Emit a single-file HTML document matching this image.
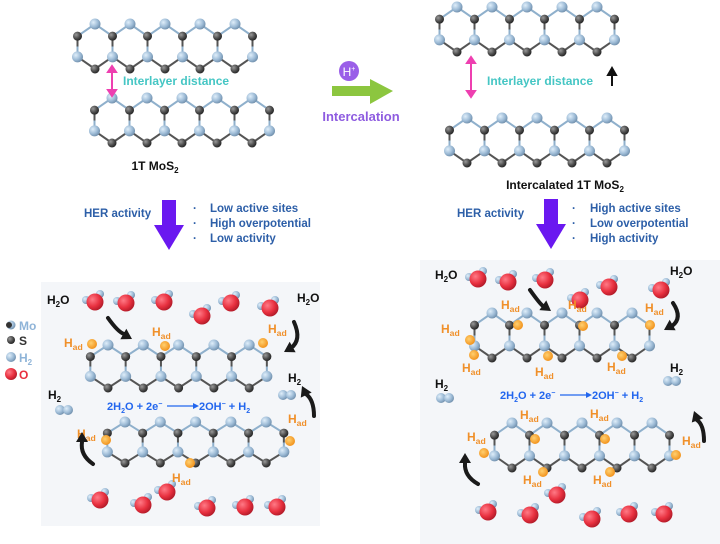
<!DOCTYPE html>
<html><head><meta charset="utf-8"><style>
html,body{margin:0;padding:0;background:#fff;}
svg{display:block;font-family:"Liberation Sans",sans-serif;}
</style></head><body>
<svg id="s" width="720" height="544" viewBox="0 0 720 544" xmlns="http://www.w3.org/2000/svg">
<defs>
<radialGradient id="gl" cx="0.35" cy="0.35" r="0.7"><stop offset="0" stop-color="#dfeefa"/><stop offset="0.6" stop-color="#9dbbd6"/><stop offset="1" stop-color="#6f8eab"/></radialGradient>
<radialGradient id="gd" cx="0.35" cy="0.35" r="0.7"><stop offset="0" stop-color="#999"/><stop offset="0.6" stop-color="#4a4a4a"/><stop offset="1" stop-color="#222"/></radialGradient>
<radialGradient id="gr" cx="0.35" cy="0.35" r="0.7"><stop offset="0" stop-color="#ff7a86"/><stop offset="0.6" stop-color="#e8303f"/><stop offset="1" stop-color="#b01a28"/></radialGradient>
<radialGradient id="go" cx="0.4" cy="0.4" r="0.7"><stop offset="0" stop-color="#ffd070"/><stop offset="1" stop-color="#f08a10"/></radialGradient>
</defs>
<rect x="41" y="282" width="279" height="244" fill="#f4f6f9"/>
<rect x="420" y="260" width="300" height="284" fill="#f4f6f9"/>
<g id="lat"></g>
<g id="mol"></g>
<!-- top texts -->
<g font-weight="bold">
<text x="123" y="85" fill="#45c6c4" font-size="12">Interlayer distance</text>
<text x="487" y="85" fill="#45c6c4" font-size="12">Interlayer distance</text>
<text x="155" y="170" text-anchor="middle" font-size="12" fill="#111">1T MoS<tspan font-size="8" dy="3">2</tspan></text>
<text x="565" y="189" text-anchor="middle" font-size="12" fill="#111">Intercalated 1T MoS<tspan font-size="8" dy="3">2</tspan></text>
<text x="84" y="217" fill="#2d5fa8" font-size="11.5">HER activity</text>
<text x="457" y="217" fill="#2d5fa8" font-size="11.5">HER activity</text>
<g fill="#2d5fa8" font-size="11.5">
<text x="193" y="212">·</text><text x="210" y="212">Low active sites</text>
<text x="193" y="227">·</text><text x="210" y="227">High overpotential</text>
<text x="193" y="242">·</text><text x="210" y="242">Low activity</text>
<text x="572" y="212">·</text><text x="590" y="212">High active sites</text>
<text x="572" y="227">·</text><text x="590" y="227">Low overpotential</text>
<text x="572" y="242">·</text><text x="590" y="242">High activity</text>
</g>
<text x="361" y="121" text-anchor="middle" fill="#8e5ce0" font-size="13">Intercalation</text>
</g>
<!-- pink arrows -->
<g stroke="#ee3fb0" stroke-width="2" fill="#ee3fb0">
<line x1="112" y1="71" x2="112" y2="91"/><polygon points="108,72 116,72 112,66"/><polygon points="108,90 116,90 112,96"/>
<line x1="471" y1="62" x2="471" y2="92"/><polygon points="467,63 475,63 471,57"/><polygon points="467,91 475,91 471,97"/>
</g>
<g stroke="#111" stroke-width="2" fill="#111"><line x1="612" y1="86" x2="612" y2="74"/><polygon points="608,75 616,75 612,68"/></g>
<!-- green arrow -->
<polygon points="332,86 370,86 370,79 393,91 370,104 370,96 332,96" fill="#8cc63f"/>
<circle cx="349" cy="71" r="10" fill="#9a5ee8"/>
<text x="349" y="76" text-anchor="middle" fill="#fff" font-size="12">H<tspan font-size="7" dy="-5">+</tspan></text>
<!-- purple arrows -->
<polygon points="162,200 176,200 176,225 184,225 169,250 154,225 162,225" fill="#6a18f0"/>
<polygon points="544,199 558,199 558,224 566,224 551,249 536,224 544,224" fill="#6a18f0"/>
<!-- legend -->
<g font-weight="bold" font-size="12">
<circle cx="11" cy="325" r="4.5" fill="url(#gl)"/><circle cx="9" cy="325" r="3" fill="#333"/><text x="19" y="330" fill="#8fb4d8">Mo</text>
<circle cx="11" cy="340" r="4" fill="url(#gd)"/><text x="19" y="345" fill="#333">S</text>
<circle cx="11" cy="357" r="5" fill="url(#gl)"/><text x="19" y="362" fill="#8fb4d8">H<tspan font-size="8" dy="3">2</tspan></text>
<circle cx="11" cy="374" r="6" fill="url(#gr)"/><text x="19" y="379" fill="#e8303f">O</text>
</g>
<g id="lbl" font-weight="bold"></g>
<g font-weight="bold" font-size="11" fill="#2266ee">
<text x="107" y="410">2H<tspan font-size="7" dy="3">2</tspan><tspan dy="-3">O + 2e</tspan><tspan font-size="7" dy="-4">−</tspan><tspan dy="4"> </tspan></text>
<line x1="167" y1="406" x2="195" y2="406" stroke="#2266ee" stroke-width="1.2"/><polygon points="193,403 199,406 193,409"/>
<text x="199" y="410">2OH<tspan font-size="7" dy="-4">−</tspan><tspan dy="4"> + H</tspan><tspan font-size="7" dy="3">2</tspan></text>
<text x="500" y="399">2H<tspan font-size="7" dy="3">2</tspan><tspan dy="-3">O + 2e</tspan><tspan font-size="7" dy="-4">−</tspan></text>
<line x1="560" y1="395" x2="588" y2="395" stroke="#2266ee" stroke-width="1.2"/><polygon points="586,392 592,395 586,398"/>
<text x="592" y="399">2OH<tspan font-size="7" dy="-4">−</tspan><tspan dy="4"> + H</tspan><tspan font-size="7" dy="3">2</tspan></text>
</g>
<g id="arr"></g>
</svg>
<script>
var NS="http://www.w3.org/2000/svg";
function el(p,t,a){var e=document.createElementNS(NS,t);for(var k in a)e.setAttribute(k,a[k]);p.appendChild(e);return e;}
var lat=document.getElementById('lat'),mol=document.getElementById('mol'),lbl=document.getElementById('lbl'),arr=document.getElementById('arr');
function layer(x0,y0,n,dx,h){
 var bonds=el(lat,'g',{'stroke-width':'2'}),atoms=el(lat,'g',{});
 var y1=y0+h*0.27,y2=y0+h*0.73,y3=y0+h;
 var L=[],D=[];
 for(var k=0;k<n;k++){var x=x0+dx*k,xl=x-dx/2,xr=x+dx/2;
  el(bonds,'line',{x1:x,y1:y0,x2:xl,y2:y1,stroke:'#8fb0cc'});el(bonds,'line',{x1:x,y1:y0,x2:xr,y2:y1,stroke:'#8fb0cc'});
  el(bonds,'line',{x1:x,y1:y3,x2:xl,y2:y2,stroke:'#555'});el(bonds,'line',{x1:x,y1:y3,x2:xr,y2:y2,stroke:'#555'});
  L.push([x,y0]);D.push([x,y3]);}
 for(var k=0;k<=n;k++){var x=x0-dx/2+dx*k;
  el(bonds,'line',{x1:x,y1:y1,x2:x,y2:(y1+y2)/2,stroke:'#555'});el(bonds,'line',{x1:x,y1:(y1+y2)/2,x2:x,y2:y2,stroke:'#8fb0cc'});
  D.push([x,y1]);L.push([x,y2]);}
 L.forEach(function(p){el(atoms,'circle',{cx:p[0],cy:p[1],r:5.5,fill:'url(#gl)'});});
 D.forEach(function(p){el(atoms,'circle',{cx:p[0],cy:p[1],r:4.5,fill:'url(#gd)'});});
}
layer(95,24,5,35,45);layer(112,98,5,35,45);
layer(457,7,5,35,45);layer(467,118,5,35,45);
layer(108,345,5,35.3,43);layer(125,422,5,35.3,41);
layer(492,313,5,35,45);layer(512,423,5,35,45);
function water(x,y){el(mol,'circle',{cx:x-9,cy:y-2,r:4,fill:'url(#gl)'});el(mol,'circle',{cx:x+5,cy:y-8,r:4,fill:'url(#gl)'});el(mol,'circle',{cx:x,cy:y,r:8.5,fill:'url(#gr)'});}
[[95,302],[126,303],[164,302],[202,316],[231,303],[270,308],[100,500],[143,505],[167,492],[207,508],[245,507],[277,507],
 [478,279],[508,282],[545,280],[580,300],[609,287],[661,290],[488,512],[530,515],[557,495],[592,519],[629,514],[664,514]].forEach(function(p){water(p[0],p[1]);});
function h2(x,y){el(mol,'circle',{cx:x,cy:y,r:5,fill:'url(#gl)'});el(mol,'circle',{cx:x+8,cy:y,r:5,fill:'url(#gl)'});}
h2(60,410);h2(283,395);h2(441,398);h2(668,381);
// orange blobs
[[92,344],[165,346],[263,343],[106,440],[190,463],[290,441],
 [470,340],[518,325],[583,326],[650,325],[474,355],[548,356],[622,356],[484,453],[535,439],[605,439],[676,455],[543,472],[610,472]].forEach(function(p){el(mol,'circle',{cx:p[0],cy:p[1],r:5,fill:'url(#go)'});});
function T(x,y,s,c,sub,fs){var t=el(lbl,'text',{x:x,y:y,fill:c,'font-size':fs||12});t.textContent=s;var ts=el(t,'tspan',{'font-size':(fs||12)*0.72,dy:3});ts.textContent=sub;var t2=el(t,'tspan',{dy:-3});if(s=='H'&&sub=='2')t2.textContent='O';return t;}
var O='#f0902a';
[[64,347],[152,336],[268,333],[77,438],[288,423],[172,482],[441,333],[501,309],[568,309],[645,312],[462,372],[535,376],[607,371],[467,441],[520,419],[590,418],[682,445],[523,484],[593,484]].forEach(function(p){T(p[0],p[1],'H',O,'ad',12);});
function W(x,y){var t=el(lbl,'text',{x:x,y:y,fill:'#111','font-size':12});t.innerHTML='H<tspan font-size="8" dy="3">2</tspan><tspan dy="-3">O</tspan>';}
W(47,304);W(297,302);W(435,279);W(670,275);
function H2(x,y){var t=el(lbl,'text',{x:x,y:y,fill:'#111','font-size':12});t.innerHTML='H<tspan font-size="8" dy="3">2</tspan>';}
H2(48,399);H2(288,382);H2(435,388);H2(670,372);
function ca(d,tip,a){el(arr,'path',{d:d,stroke:'#1a1a1a','stroke-width':4,fill:'none','stroke-linecap':'round'});
 var r=a*Math.PI/180,x=tip[0],y=tip[1],bx=x-10*Math.cos(r),by=y-10*Math.sin(r),px=6*Math.sin(r),py=-6*Math.cos(r);
 el(arr,'polygon',{points:x+','+y+' '+(bx+px)+','+(by+py)+' '+(bx-px)+','+(by-py),fill:'#1a1a1a'});}
ca('M108,318 Q118,332 124,334',[132,339],30);
ca('M294,322 Q302,340 291,348',[284,352],150);
ca('M314,416 Q314,400 306,394',[302,386],-115);
ca('M93,464 Q80,455 82,442',[82,432],-90);
ca('M530,290 Q540,304 543,306',[551,311],35);
ca('M673,303 Q683,318 672,326',[664,330],150);
ca('M704,441 Q704,425 697,420',[694,411],-110);
ca('M478,484 Q464,476 465,463',[465,453],-90);
</script>
</body></html>
